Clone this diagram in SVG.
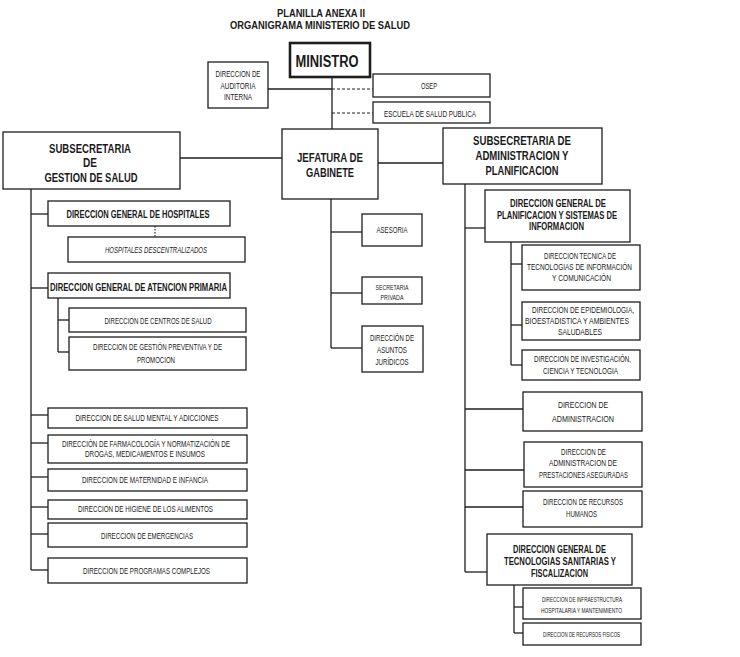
<svg xmlns="http://www.w3.org/2000/svg" width="740" height="657" viewBox="0 0 740 657">
<style>
.bg{fill:#ffffff}
.box{fill:#ffffff;stroke:#1e1e1e;stroke-width:1.3}
.thick{fill:#ffffff;stroke:#1e1e1e;stroke-width:2.6}
.ln{fill:none;stroke:#1e1e1e;stroke-width:1.3}
.dash{fill:none;stroke:#1e1e1e;stroke-width:1.1;stroke-dasharray:3 2}
.dot{fill:none;stroke:#1e1e1e;stroke-width:1.1;stroke-dasharray:1.5 1.5}
text{font-family:"Liberation Sans",Arial,sans-serif;fill:#1a1a1a;text-anchor:middle}
.t{font-size:10px;font-weight:bold}
.h{font-size:13px;font-weight:bold}
.j{font-size:12.5px;font-weight:bold}
.m{font-size:16px;font-weight:bold}
.g{font-size:10px;font-weight:bold}
.s{font-size:8.5px}
.sp{font-size:7.5px}
.xs{font-size:7px}
.it{font-size:8.5px;font-style:italic}
</style>
<rect class="bg" x="0" y="0" width="740" height="657"/>
<g id="title">
<text class="t" x="321" y="17" textLength="88" lengthAdjust="spacingAndGlyphs">PLANILLA ANEXA II</text>
<text class="t" x="320" y="29" textLength="180" lengthAdjust="spacingAndGlyphs">ORGANIGRAMA MINISTERIO DE SALUD</text>
</g>
<g id="connectors">
<line class="ln" x1="332" y1="77" x2="332" y2="129"/>
<line class="ln" x1="268" y1="89" x2="332" y2="89"/>
<line class="dash" x1="332" y1="89" x2="373" y2="89"/>
<line class="dash" x1="332" y1="113" x2="373" y2="113"/>
<line class="ln" x1="180" y1="158" x2="282" y2="158"/>
<line class="ln" x1="378" y1="163" x2="443" y2="163"/>
<line class="ln" x1="331" y1="199" x2="331" y2="348"/>
<line class="ln" x1="331" y1="232" x2="362" y2="232"/>
<line class="ln" x1="331" y1="293" x2="362" y2="293"/>
<line class="ln" x1="331" y1="348" x2="362" y2="348"/>
<line class="ln" x1="31" y1="189" x2="31" y2="570"/>
<line class="ln" x1="31" y1="214" x2="48" y2="214"/>
<line class="dot" x1="155" y1="226" x2="155" y2="237"/>
<line class="ln" x1="31" y1="288" x2="48" y2="288"/>
<line class="ln" x1="58" y1="298" x2="58" y2="352"/>
<line class="ln" x1="58" y1="320" x2="69" y2="320"/>
<line class="ln" x1="58" y1="352" x2="69" y2="352"/>
<line class="ln" x1="31" y1="415" x2="48" y2="415"/>
<line class="ln" x1="31" y1="443" x2="48" y2="443"/>
<line class="ln" x1="31" y1="477" x2="48" y2="477"/>
<line class="ln" x1="31" y1="507" x2="48" y2="507"/>
<line class="ln" x1="31" y1="534" x2="48" y2="534"/>
<line class="ln" x1="31" y1="570" x2="48" y2="570"/>
<line class="ln" x1="465" y1="184" x2="465" y2="572"/>
<line class="ln" x1="465" y1="228" x2="485" y2="228"/>
<line class="ln" x1="511" y1="242" x2="511" y2="365"/>
<line class="ln" x1="511" y1="264" x2="522" y2="264"/>
<line class="ln" x1="511" y1="325" x2="522" y2="325"/>
<line class="ln" x1="511" y1="365" x2="522" y2="365"/>
<line class="ln" x1="465" y1="409" x2="523" y2="409"/>
<line class="ln" x1="465" y1="470" x2="524" y2="470"/>
<line class="ln" x1="465" y1="507" x2="523" y2="507"/>
<line class="ln" x1="465" y1="572" x2="487" y2="572"/>
<line class="ln" x1="514" y1="585" x2="514" y2="633"/>
<line class="ln" x1="514" y1="607" x2="523" y2="607"/>
<line class="ln" x1="514" y1="633" x2="523" y2="633"/>
</g>
<g id="ministro">
<rect class="thick" x="290" y="43" width="80" height="34"/>
<text class="m" x="327" y="67" textLength="63" lengthAdjust="spacingAndGlyphs">MINISTRO</text>
</g>
<g id="auditoria">
<rect class="box" x="208" y="62" width="60" height="46"/>
<text class="s" x="238" y="77" textLength="45" lengthAdjust="spacingAndGlyphs">DIRECCION DE</text>
<text class="s" x="238" y="89" textLength="35" lengthAdjust="spacingAndGlyphs">AUDITORIA</text>
<text class="s" x="238" y="100" textLength="28" lengthAdjust="spacingAndGlyphs">INTERNA</text>
</g>
<g id="osep">
<rect class="box" x="373" y="74" width="117" height="23"/>
<text class="s" x="429" y="88.5" textLength="16" lengthAdjust="spacingAndGlyphs">OSEP</text>
</g>
<g id="escuela">
<rect class="box" x="373" y="102" width="117" height="21"/>
<text class="s" x="430" y="116.5" textLength="92" lengthAdjust="spacingAndGlyphs">ESCUELA DE SALUD PUBLICA</text>
</g>
<g id="jefatura">
<rect class="box" x="282" y="129" width="96" height="70"/>
<text class="j" x="330" y="162" textLength="66" lengthAdjust="spacingAndGlyphs">JEFATURA DE</text>
<text class="j" x="330" y="177" textLength="48" lengthAdjust="spacingAndGlyphs">GABINETE</text>
</g>
<g id="subsec-gestion">
<rect class="box" x="3" y="132" width="177" height="57"/>
<text class="h" x="90" y="153" textLength="82" lengthAdjust="spacingAndGlyphs">SUBSECRETARIA</text>
<text class="h" x="90" y="167" textLength="14" lengthAdjust="spacingAndGlyphs">DE</text>
<text class="h" x="91" y="182" textLength="93" lengthAdjust="spacingAndGlyphs">GESTION DE SALUD</text>
</g>
<g id="subsec-admin">
<rect class="box" x="443" y="128" width="159" height="56"/>
<text class="h" x="522" y="145" textLength="98" lengthAdjust="spacingAndGlyphs">SUBSECRETARIA DE</text>
<text class="h" x="522" y="160" textLength="93" lengthAdjust="spacingAndGlyphs">ADMINISTRACION Y</text>
<text class="h" x="522" y="175" textLength="73" lengthAdjust="spacingAndGlyphs">PLANIFICACION</text>
</g>
<g id="asesoria">
<rect class="box" x="362" y="214" width="60" height="32"/>
<text class="s" x="392" y="233" textLength="31" lengthAdjust="spacingAndGlyphs">ASESORIA</text>
</g>
<g id="secretaria">
<rect class="box" x="362" y="277" width="60" height="27"/>
<text class="sp" x="392" y="290" textLength="33" lengthAdjust="spacingAndGlyphs">SECRETARIA</text>
<text class="sp" x="392" y="299.5" textLength="23" lengthAdjust="spacingAndGlyphs">PRIVADA</text>
</g>
<g id="asuntos">
<rect class="box" x="362" y="326" width="61" height="46"/>
<text class="s" x="392" y="341" textLength="44" lengthAdjust="spacingAndGlyphs">DIRECCIÓN DE</text>
<text class="s" x="392" y="353" textLength="30" lengthAdjust="spacingAndGlyphs">ASUNTOS</text>
<text class="s" x="392" y="365" textLength="33" lengthAdjust="spacingAndGlyphs">JURÍDICOS</text>
</g>
<g id="dg-hospitales">
<rect class="box" x="48" y="201" width="182" height="25"/>
<text class="g" x="138" y="218" textLength="143" lengthAdjust="spacingAndGlyphs">DIRECCION GENERAL DE HOSPITALES</text>
</g>
<g id="hosp-desc">
<rect class="box" x="68" y="237" width="177" height="25"/>
<text class="it" x="156" y="253" textLength="102" lengthAdjust="spacingAndGlyphs">HOSPITALES DESCENTRALIZADOS</text>
</g>
<g id="dg-atencion">
<rect class="box" x="48" y="273" width="182" height="25"/>
<text class="g" x="138.5" y="291" textLength="177" lengthAdjust="spacingAndGlyphs">DIRECCION GENERAL DE ATENCION PRIMARIA</text>
</g>
<g id="centros">
<rect class="box" x="69" y="308" width="177" height="24"/>
<text class="s" x="158" y="324" textLength="107" lengthAdjust="spacingAndGlyphs">DIRECCION DE CENTROS DE SALUD</text>
</g>
<g id="gestion-prev">
<rect class="box" x="69" y="337" width="177" height="33"/>
<text class="s" x="157.5" y="350" textLength="129" lengthAdjust="spacingAndGlyphs">DIRECCION DE GESTIÓN PREVENTIVA Y DE</text>
<text class="s" x="156" y="362.5" textLength="38" lengthAdjust="spacingAndGlyphs">PROMOCION</text>
</g>
<g id="salud-mental">
<rect class="box" x="48" y="408" width="199" height="20"/>
<text class="s" x="147" y="421" textLength="143" lengthAdjust="spacingAndGlyphs">DIRECCION  DE  SALUD MENTAL Y ADICCIONES</text>
</g>
<g id="farmacologia">
<rect class="box" x="48" y="435" width="199" height="28"/>
<text class="s" x="146" y="446.5" textLength="168" lengthAdjust="spacingAndGlyphs">DIRECCIÓN DE FARMACOLOGÍA Y NORMATIZACIÓN DE</text>
<text class="s" x="145" y="456.5" textLength="120" lengthAdjust="spacingAndGlyphs">DROGAS, MEDICAMENTOS E INSUMOS</text>
</g>
<g id="maternidad">
<rect class="box" x="48" y="469" width="199" height="22"/>
<text class="s" x="145" y="483" textLength="126" lengthAdjust="spacingAndGlyphs">DIRECCION DE MATERNIDAD E INFANCIA</text>
</g>
<g id="higiene">
<rect class="box" x="48" y="500" width="199" height="19"/>
<text class="s" x="145.5" y="512" textLength="135" lengthAdjust="spacingAndGlyphs">DIRECCION DE HIGIENE  DE LOS ALIMENTOS</text>
</g>
<g id="emergencias">
<rect class="box" x="48" y="523" width="199" height="24"/>
<text class="s" x="147" y="538.5" textLength="92" lengthAdjust="spacingAndGlyphs">DIRECCION DE EMERGENCIAS</text>
</g>
<g id="programas">
<rect class="box" x="48" y="558" width="199" height="25"/>
<text class="s" x="146.5" y="574" textLength="127" lengthAdjust="spacingAndGlyphs">DIRECCION DE PROGRAMAS COMPLEJOS</text>
</g>
<g id="dg-planificacion">
<rect class="box" x="485" y="190" width="145" height="52"/>
<text class="g" x="558" y="207" textLength="96" lengthAdjust="spacingAndGlyphs">DIRECCION GENERAL DE</text>
<text class="g" x="557" y="218.5" textLength="120" lengthAdjust="spacingAndGlyphs">PLANIFICACION Y SISTEMAS DE</text>
<text class="g" x="556.5" y="230" textLength="55" lengthAdjust="spacingAndGlyphs">INFORMACION</text>
</g>
<g id="dt-tecnologias">
<rect class="box" x="522" y="245" width="118" height="45"/>
<text class="s" x="580" y="259" textLength="72" lengthAdjust="spacingAndGlyphs">DIRECCION TECNICA DE</text>
<text class="s" x="579.5" y="269.5" textLength="105" lengthAdjust="spacingAndGlyphs">TECNOLOGIAS DE INFORMACIÓN</text>
<text class="s" x="581.5" y="280.5" textLength="59" lengthAdjust="spacingAndGlyphs">Y COMUNICACIÓN</text>
</g>
<g id="epidemiologia">
<rect class="box" x="522" y="302" width="118" height="38"/>
<text class="s" x="583" y="312.5" textLength="102" lengthAdjust="spacingAndGlyphs">DIRECCION  DE EPIDEMIOLOGIA,</text>
<text class="s" x="577" y="323.5" textLength="104" lengthAdjust="spacingAndGlyphs">BIOESTADISTICA  Y AMBIENTES</text>
<text class="s" x="580" y="334.5" textLength="44" lengthAdjust="spacingAndGlyphs">SALUDABLES</text>
</g>
<g id="investigacion">
<rect class="box" x="522" y="350" width="118" height="30"/>
<text class="s" x="582.5" y="362" textLength="97" lengthAdjust="spacingAndGlyphs">DIRECCION DE INVESTIGACIÓN,</text>
<text class="s" x="580.5" y="373.5" textLength="75" lengthAdjust="spacingAndGlyphs">CIENCIA Y TECNOLOGIA</text>
</g>
<g id="administracion">
<rect class="box" x="523" y="392" width="119" height="39"/>
<text class="s" x="583" y="408" textLength="50" lengthAdjust="spacingAndGlyphs">DIRECCION DE</text>
<text class="s" x="583" y="422" textLength="62" lengthAdjust="spacingAndGlyphs">ADMINISTRACION</text>
</g>
<g id="prestaciones">
<rect class="box" x="524" y="442" width="118" height="45"/>
<text class="s" x="583.5" y="455" textLength="45" lengthAdjust="spacingAndGlyphs">DIRECCION DE</text>
<text class="s" x="583" y="466" textLength="68" lengthAdjust="spacingAndGlyphs">ADMINISTRACION DE</text>
<text class="s" x="583.5" y="477.5" textLength="89" lengthAdjust="spacingAndGlyphs">PRESTACIONES ASEGURADAS</text>
</g>
<g id="rrhh">
<rect class="box" x="523" y="491" width="119" height="36"/>
<text class="s" x="583" y="505" textLength="80" lengthAdjust="spacingAndGlyphs">DIRECCION DE RECURSOS</text>
<text class="s" x="581.5" y="517" textLength="31" lengthAdjust="spacingAndGlyphs">HUMANOS</text>
</g>
<g id="dg-tecnologias">
<rect class="box" x="487" y="534" width="145" height="51"/>
<text class="g" x="559.5" y="553" textLength="93" lengthAdjust="spacingAndGlyphs">DIRECCION GENERAL DE</text>
<text class="g" x="560" y="565" textLength="112" lengthAdjust="spacingAndGlyphs">TECNOLOGIAS SANITARIAS Y</text>
<text class="g" x="559.5" y="576.5" textLength="57" lengthAdjust="spacingAndGlyphs">FISCALIZACION</text>
</g>
<g id="infraestructura">
<rect class="box" x="523" y="588" width="118" height="31"/>
<text class="xs" x="582" y="602" textLength="80" lengthAdjust="spacingAndGlyphs">DIRECCION DE INFRAESTRUCTURA</text>
<text class="xs" x="581.5" y="612.5" textLength="81" lengthAdjust="spacingAndGlyphs">HOSPITALARIA Y MANTENIMIENTO</text>
</g>
<g id="recursos-fisicos">
<rect class="box" x="523" y="623" width="118" height="22"/>
<text class="xs" x="581.5" y="637" textLength="77" lengthAdjust="spacingAndGlyphs">DIRECCION DE RECURSOS FISICOS</text>
</g>
</svg>
